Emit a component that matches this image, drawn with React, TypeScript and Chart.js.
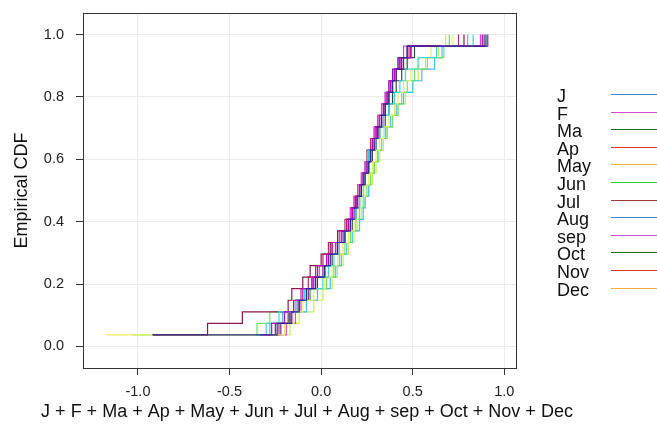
import React, { useEffect, useRef } from "react";
import { Chart, registerables } from "chart.js";

Chart.register(...registerables);

const months = ["J", "F", "Ma", "Ap", "May", "Jun", "Jul", "Aug", "sep", "Oct", "Nov", "Dec"];

const J = [-0.92, -0.24, -0.16, -0.12, -0.08, -0.03, 0.02, 0.05, 0.09, 0.13, 0.16, 0.18, 0.2, 0.22, 0.24, 0.26, 0.27, 0.29, 0.31, 0.33, 0.35, 0.37, 0.39, 0.41, 0.44, 0.47, 0.9];
const F = [-0.33, -0.27, -0.2, -0.15, -0.1, -0.05, -0.02, 0.03, 0.06, 0.11, 0.15, 0.17, 0.19, 0.21, 0.23, 0.25, 0.27, 0.28, 0.3, 0.33, 0.35, 0.36, 0.38, 0.4, 0.43, 0.49, 0.88];
const Ma = [-0.36, -0.3, -0.23, -0.13, -0.09, 0.01, 0.04, 0.07, 0.1, 0.13, 0.16, 0.19, 0.21, 0.23, 0.24, 0.25, 0.26, 0.29, 0.32, 0.34, 0.37, 0.4, 0.43, 0.46, 0.53, 0.63, 0.83];
const Ap = [-0.92, -0.62, -0.43, -0.18, -0.16, -0.1, -0.06, 0.0, 0.05, 0.09, 0.14, 0.17, 0.19, 0.21, 0.23, 0.25, 0.27, 0.29, 0.31, 0.33, 0.35, 0.37, 0.39, 0.41, 0.45, 0.49, 0.78];
const May = [-1.17, -0.2, -0.15, -0.1, -0.04, 0.02, 0.06, 0.09, 0.12, 0.15, 0.18, 0.2, 0.22, 0.24, 0.26, 0.28, 0.3, 0.32, 0.34, 0.37, 0.4, 0.42, 0.45, 0.49, 0.53, 0.6, 0.72];
const Jun = [-1.03, -0.35, -0.28, -0.14, -0.06, 0.03, 0.07, 0.1, 0.13, 0.16, 0.19, 0.21, 0.23, 0.25, 0.27, 0.29, 0.31, 0.33, 0.36, 0.39, 0.42, 0.44, 0.47, 0.51, 0.58, 0.67, 0.7];
const Jul = [-0.25, -0.22, -0.17, -0.13, -0.07, -0.04, 0.01, 0.04, 0.08, 0.12, 0.15, 0.17, 0.19, 0.21, 0.23, 0.25, 0.26, 0.28, 0.3, 0.32, 0.34, 0.36, 0.37, 0.39, 0.42, 0.47, 0.91];
const Aug = [-0.34, -0.28, -0.21, -0.08, -0.02, 0.05, 0.08, 0.11, 0.14, 0.17, 0.21, 0.23, 0.24, 0.26, 0.27, 0.29, 0.31, 0.33, 0.35, 0.38, 0.41, 0.45, 0.5, 0.55, 0.62, 0.66, 0.8];
const Sep = [-0.22, -0.19, -0.14, -0.11, -0.09, -0.05, -0.01, 0.03, 0.06, 0.1, 0.14, 0.16, 0.18, 0.2, 0.22, 0.24, 0.26, 0.28, 0.29, 0.31, 0.33, 0.35, 0.37, 0.4, 0.42, 0.45, 0.87];
const Oct = [-0.3, -0.25, -0.18, -0.12, -0.06, -0.02, 0.02, 0.06, 0.09, 0.13, 0.17, 0.19, 0.21, 0.22, 0.24, 0.26, 0.28, 0.3, 0.32, 0.35, 0.37, 0.39, 0.41, 0.44, 0.47, 0.51, 0.89];
const Nov = [-0.27, -0.23, -0.17, -0.14, -0.11, -0.07, -0.03, 0.01, 0.04, 0.1, 0.13, 0.16, 0.18, 0.2, 0.22, 0.24, 0.25, 0.27, 0.29, 0.31, 0.33, 0.35, 0.38, 0.4, 0.43, 0.48, 0.75];
const Dec = [-0.18, -0.17, -0.12, -0.04, 0.01, 0.06, 0.09, 0.12, 0.15, 0.18, 0.2, 0.22, 0.24, 0.26, 0.28, 0.3, 0.32, 0.34, 0.36, 0.39, 0.42, 0.46, 0.5, 0.53, 0.57, 0.64, 0.68];

const seriesValues = [J, F, Ma, Ap, May, Jun, Jul, Aug, Sep, Oct, Nov, Dec];

const lineColors = ["#2b2b8c", "#c000c0", "#40d8d0", "#8b1a4a", "#eeee66", "#70e070", "#7a1fa2", "#40c0f0", "#e040e0", "#2f4f4f", "#b03060", "#c8f050"];
const legendColors = ["#3a86d0", "#d050d0", "#1f6b1f", "#e03030", "#f0b040", "#30d030", "#a03a3a", "#3a86d0", "#d050d0", "#1f6b1f", "#e03030", "#f0b040"];

const xTicks = [-1.0, -0.5, 0.0, 0.5, 1.0];
const yTicks = [0.0, 0.2, 0.4, 0.6, 0.8, 1.0];

const xTitle = "J + F + Ma + Ap + May + Jun + Jul + Aug + sep + Oct + Nov + Dec";
const yTitle = "Empirical CDF";

const FONT = "'Liberation Sans', Arial, sans-serif";

export default function App() {
  const ref = useRef<HTMLCanvasElement | null>(null);

  useEffect(() => {
    document.body.style.margin = "0";
    const canvas = ref.current;
    if (!canvas) return;

    const datasets = seriesValues.map((vals, idx) => {
      const sorted = [...vals].sort((a, b) => a - b);
      return {
        label: months[idx],
        data: sorted.map((v, i) => ({ x: v, y: (i + 1) / sorted.length })),
        borderColor: lineColors[idx],
        backgroundColor: lineColors[idx],
        borderWidth: 1.2,
        pointRadius: 0,
        showLine: true,
        stepped: "before" as const,
        fill: false,
      };
    });

    const boxPlugin = {
      id: "boxAndLegend",
      afterDraw(chart: any) {
        const { ctx, chartArea } = chart;
        ctx.save();
        ctx.strokeStyle = "#333";
        ctx.lineWidth = 1;
        ctx.strokeRect(
          Math.round(chartArea.left) + 0.5,
          Math.round(chartArea.top) + 0.5,
          Math.round(chartArea.right - chartArea.left),
          Math.round(chartArea.bottom - chartArea.top)
        );
        ctx.font = `18px ${FONT}`;
        ctx.fillStyle = "#111";
        ctx.textAlign = "center";
        ctx.textBaseline = "middle";
        ctx.fillText(xTitle, 307, 412);
        ctx.textAlign = "left";
        months.forEach((m, i) => {
          const y = 97 + i * 17.6;
          ctx.fillStyle = "#111";
          ctx.fillText(m, 557, y);
          ctx.strokeStyle = legendColors[i];
          ctx.lineWidth = 1;
          ctx.beginPath();
          ctx.moveTo(611, Math.round(y - 3) + 0.5);
          ctx.lineTo(660, Math.round(y - 3) + 0.5);
          ctx.stroke();
        });
        ctx.restore();
      },
    };

    const chart = new Chart(canvas, {
      type: "scatter",
      data: { datasets },
      options: {
        animation: false,
        responsive: false,
        maintainAspectRatio: false,
        layout: { padding: { left: 0, right: 141, top: 13, bottom: 0 } },
        plugins: { legend: { display: false }, tooltip: { enabled: false } },
        scales: {
          x: {
            type: "linear",
            min: -1.3,
            max: 1.064,
            afterBuildTicks: (s: any) => {
              s.ticks = xTicks.map((v) => ({ value: v }));
            },
            afterFit: (s: any) => {
              s.height = 62;
              s.paddingLeft = 0;
              s.paddingRight = 0;
            },
            grid: { color: "#ebebeb", tickColor: "#333", tickLength: 7, drawTicks: true },
            border: { display: true, color: "#333" },
            ticks: {
              font: { family: FONT, size: 14.5 },
              color: "#222",
              padding: 8,
              maxRotation: 0,
              callback: (v: any) => Number(v).toFixed(1),
            },
            title: { display: false },
          },
          y: {
            type: "linear",
            min: -0.069,
            max: 1.069,
            afterBuildTicks: (s: any) => {
              s.ticks = yTicks.map((v) => ({ value: v }));
            },
            afterFit: (s: any) => {
              s.width = 83;
              s.paddingTop = 0;
              s.paddingBottom = 0;
            },
            grid: { color: "#ebebeb", tickColor: "#333", tickLength: 7, drawTicks: true },
            border: { display: true, color: "#333" },
            ticks: {
              font: { family: FONT, size: 14.5 },
              color: "#222",
              padding: 12,
              callback: (v: any) => Number(v).toFixed(1),
            },
            title: {
              display: true,
              text: yTitle,
              font: { family: FONT, size: 18 },
              color: "#111",
              padding: { top: 11, bottom: 0 },
            },
          },
        },
      },
      plugins: [boxPlugin],
    });

    return () => chart.destroy();
  }, []);

  return (
    <div style={{ position: "relative", width: 657, height: 430, background: "#fff" }}>
      <canvas ref={ref} width={657} height={430} style={{ width: 657, height: 430, display: "block" }} />
    </div>
  );
}
